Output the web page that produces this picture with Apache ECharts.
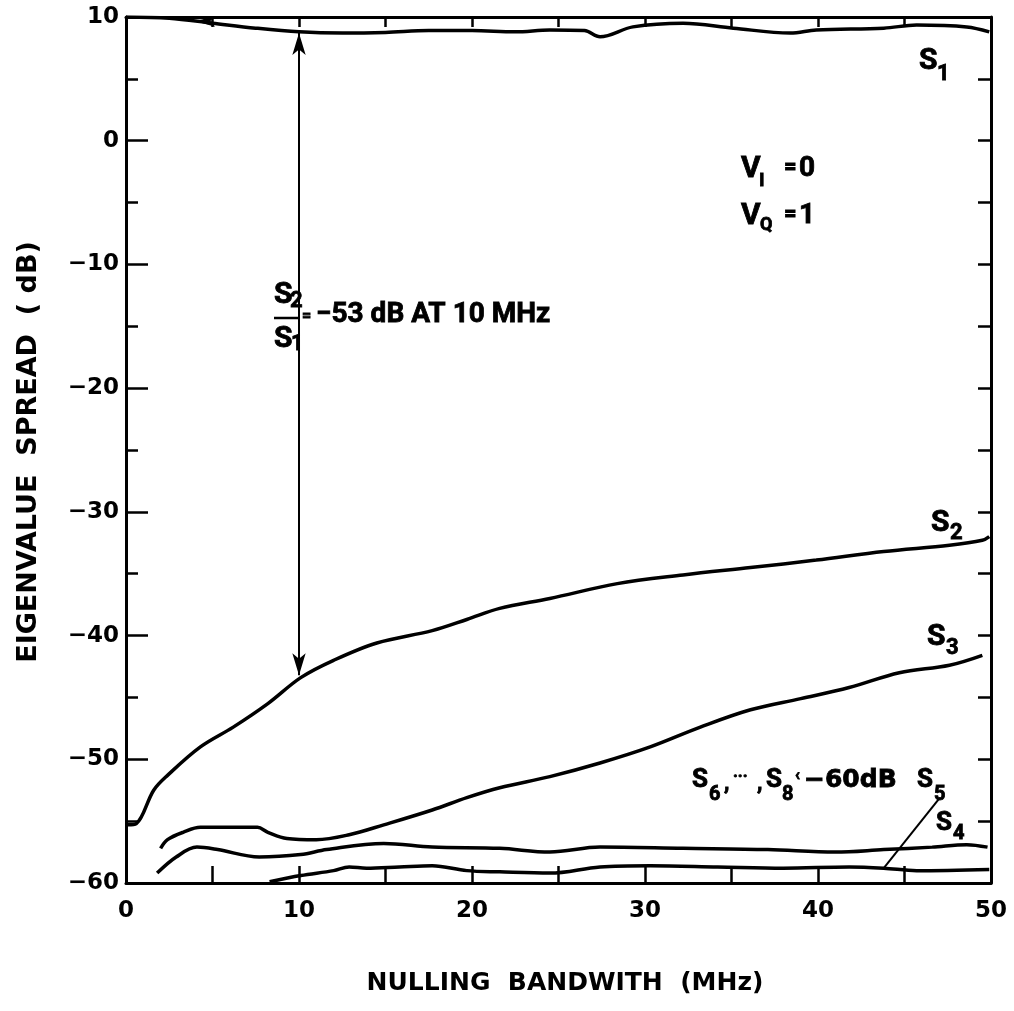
<!DOCTYPE html>
<html><head><meta charset="utf-8">
<script src="https://cdn.jsdelivr.net/npm/echarts@6/dist/echarts.min.js"></script>
<style>html,body{margin:0;padding:0;background:#fff}#c{width:1014px;height:1011px}</style>
</head><body><div id="c"></div>
<script>
// ---- data (MHz, dB) ----
const xS1 = [0, 2.5, 5, 7.5, 10, 12.5, 15, 17.5, 20, 22.5, 24.5, 26.5, 27.4, 29.3, 32.2, 35.1, 38.4, 39.9, 43.8, 45.7, 48.6, 49.9];
const yS1 = [10, 9.9, 9.5, 9.1, 8.8, 8.7, 8.75, 8.9, 8.9, 8.8, 8.95, 8.9, 8.4, 9.2, 9.5, 9.1, 8.7, 8.95, 9.1, 9.35, 9.2, 8.8];

const xS2 = [0.1, 0.6, 1.6, 2.4, 4.3, 6.2, 8.2, 10.1, 12.0, 14.5, 17.7, 19.7, 21.6, 24.5, 28.4, 32.2, 36.1, 39.9, 43.8, 47.6, 49.5, 49.9];
const yS2 = [-55.3, -55.2, -52.5, -51.3, -49.0, -47.4, -45.5, -43.4, -42.0, -40.6, -39.6, -38.7, -37.8, -37.0, -35.8, -35.1, -34.5, -33.9, -33.2, -32.7, -32.3, -32.0];

const xS3 = [2.0, 2.4, 3.3, 4.3, 6.2, 7.6, 8.2, 9.3, 11.0, 12.9, 14.9, 17.7, 19.7, 21.6, 24.5, 27.4, 30.3, 33.2, 36.1, 39.0, 41.8, 44.7, 47.6, 49.5];
const yS3 = [-57.2, -56.5, -55.9, -55.5, -55.5, -55.5, -55.9, -56.4, -56.5, -56.1, -55.3, -54.1, -53.1, -52.3, -51.4, -50.3, -49.0, -47.4, -46.0, -45.1, -44.2, -43.0, -42.4, -41.6];

const xS4 = [1.8, 2.9, 4.1, 5.3, 7.7, 10.1, 11.6, 14.9, 17.7, 21.6, 24.5, 27.4, 32.2, 37.1, 41.0, 43.8, 46.6, 48.6, 49.8];
const yS4 = [-59.2, -57.9, -57.1, -57.3, -57.9, -57.7, -57.3, -56.8, -57.1, -57.2, -57.5, -57.1, -57.2, -57.3, -57.5, -57.3, -57.1, -56.9, -57.1];

const xS5 = [8.3, 10.1, 12.0, 12.9, 13.9, 15.8, 17.7, 19.7, 21.6, 24.5, 27.4, 30.3, 34.2, 38.0, 41.8, 43.8, 45.7, 49.9];
const yS5 = [-59.9, -59.4, -59.0, -58.7, -58.8, -58.7, -58.6, -59.0, -59.1, -59.2, -58.7, -58.6, -58.7, -58.8, -58.7, -58.8, -59.0, -58.9];

const xTickLabels = [0, 10, 20, 30, 40, 50];
const yTickLabels = [10, 0, -10, -20, -30, -40, -50, -60];

// annotation anchors in data space
const spreadArrow = [[10, 8.7], [10, -43.2]];
const s5Pointer = [[47.05, -53.1], [43.8, -58.8]];
const s1ArrowHead = [4.0, 9.65];

function zip(xs, ys) { return xs.map((x, i) => [x, ys[i]]); }

const TF = 'DejaVu Sans';
const AF = 'Roboto';
function T(x, y, text, size, fam) {
  return { type: 'text', x: x, y: y, silent: true,
    style: { text: text, font: 'bold ' + size + 'px "' + (fam || AF) + '"', fill: '#000',
      stroke: '#000', lineWidth: 0.8,
      align: 'left', verticalAlign: 'middle', textAlign: 'left', textVerticalAlign: 'middle' } };
}

const chart = echarts.init(document.getElementById('c'), null, { renderer: 'canvas' });
const lineSeries = (name, xs, ys) => ({
  name: name, type: 'line', data: zip(xs, ys), symbol: 'none', smooth: 0.35,
  lineStyle: { color: '#000', width: 3.5 }, silent: true, animation: false, z: 3
});

const s1 = lineSeries('S1', xS1, yS1);
s1.markPoint = { silent: true, animation: false,
  data: [{ coord: s1ArrowHead, symbol: 'arrow', symbolRotate: 90, symbolSize: [8, 20],
    itemStyle: { color: '#000' }, label: { show: false } }] };
const s2 = lineSeries('S2', xS2, yS2);
s2.markLine = { silent: true, animation: false, symbol: ['arrow', 'arrow'], symbolSize: [10, 22],
  lineStyle: { color: '#000', width: 2, type: 'solid' }, label: { show: false },
  data: [[{ coord: spreadArrow[0] }, { coord: spreadArrow[1] }]] };
const s5 = lineSeries('S5', xS5, yS5);
s5.markLine = { silent: true, animation: false, symbol: ['none', 'none'],
  lineStyle: { color: '#000', width: 2, type: 'solid' }, label: { show: false },
  data: [[{ coord: s5Pointer[0] }, { coord: s5Pointer[1] }]] };

const axisLine = { show: true, onZero: false, lineStyle: { color: '#000', width: 3 } };

chart.setOption({
  animation: false,
  backgroundColor: '#fff',
  grid: { left: 126, right: 23, top: 17, bottom: 128, containLabel: false },
  xAxis: [
    { type: 'value', position: 'bottom', min: 0, max: 50, interval: 5,
      axisLine: axisLine, splitLine: { show: false },
      axisTick: { show: true, inside: true, length: 17, lineStyle: { color: '#000', width: 2.5 } },
      axisLabel: { margin: 17, color: '#000', fontFamily: TF, fontWeight: 'bold', fontSize: 23,
        formatter: v => xTickLabels.indexOf(v) >= 0 ? String(v) : '' } },
    { type: 'value', position: 'top', min: 0, max: 50, interval: 5,
      axisLine: axisLine, splitLine: { show: false },
      axisTick: { show: true, inside: true, length: 10, lineStyle: { color: '#000', width: 2.5 } },
      axisLabel: { show: false } }
  ],
  yAxis: [
    { type: 'value', position: 'left', min: -60, max: 10, interval: 10,
      axisLine: axisLine, splitLine: { show: false },
      axisTick: { show: true, inside: true, length: 22, lineStyle: { color: '#000', width: 2.5 } },
      axisLabel: { margin: 7, color: '#000', fontFamily: TF, fontWeight: 'bold', fontSize: 23,
        formatter: v => yTickLabels.indexOf(v) >= 0 ? String(v).replace('-', '\u2212') : '' } },
    { type: 'value', position: 'left', min: -60, max: 10, interval: 5,
      axisLine: { show: false }, splitLine: { show: false },
      axisTick: { show: true, inside: true, length: 12, lineStyle: { color: '#000', width: 2.5 } },
      axisLabel: { show: false } },
    { type: 'value', position: 'right', min: -60, max: 10, interval: 5,
      axisLine: axisLine, splitLine: { show: false },
      axisTick: { show: true, inside: true, length: 13, lineStyle: { color: '#000', width: 2.5 } },
      axisLabel: { show: false } }
  ],
  series: [s1, s2, lineSeries('S3', xS3, yS3), lineSeries('S4', xS4, yS4), s5],
  graphic: [
    // axis titles
    { type: 'text', x: 29, y: 452, rotation: Math.PI / 2, silent: true,
      style: { text: 'EIGENVALUE  SPREAD  ( dB)', font: 'bold 27px "DejaVu Sans"', fill: '#000',
        align: 'center', verticalAlign: 'middle', textAlign: 'center', textVerticalAlign: 'middle' } },
    { type: 'text', x: 565, y: 983, silent: true,
      style: { text: 'NULLING  BANDWITH  (MHz)', font: 'bold 25px "DejaVu Sans"', fill: '#000',
        align: 'center', verticalAlign: 'middle', textAlign: 'center', textVerticalAlign: 'middle' } },
    // S1
    T(919, 61, 'S', 30), T(937, 74, '1', 22),
    // V_I = 0, V_Q = 1
    T(741, 169, 'V', 30), T(759, 181, 'I', 19), T(784, 167, '=', 22), T(799, 169, '0', 28),
    T(741, 216, 'V', 30), T(760, 225, 'Q', 18), T(784, 214, '=', 22), T(799, 216, '1', 28),
    // ratio annotation
    T(274, 295, 'S', 30), T(290, 301, '2', 22),
    { type: 'line', silent: true, shape: { x1: 274, y1: 318, x2: 300, y2: 318 },
      style: { stroke: '#000', lineWidth: 2.5 } },
    T(302, 317, '=', 16), T(316, 315, '\u221253 dB AT 10 MHz', 28),
    T(274, 339, 'S', 30), T(291, 344, '1', 22),
    // S2, S3
    T(931, 523, 'S', 30), T(950, 533, '2', 22),
    T(927, 637, 'S', 30), T(946, 648, '3', 22),
    // S6..S8, S5
    T(692, 780, 'S', 26), T(709, 795, '6', 20), T(724, 784, ',', 22), T(733, 777, '\u00b7\u00b7\u00b7', 16), T(757, 784, ',', 22),
    T(766, 780, 'S', 26), T(782, 795, '8', 20), T(795, 776, '\u2039', 16), T(804, 780, '\u221260dB', 25, TF),
    T(917, 780, 'S', 26), T(934, 795, '5', 20),
    // S4
    T(936, 823, 'S', 26), T(953, 834, '4', 20)
  ]
});
</script>
</body></html>
